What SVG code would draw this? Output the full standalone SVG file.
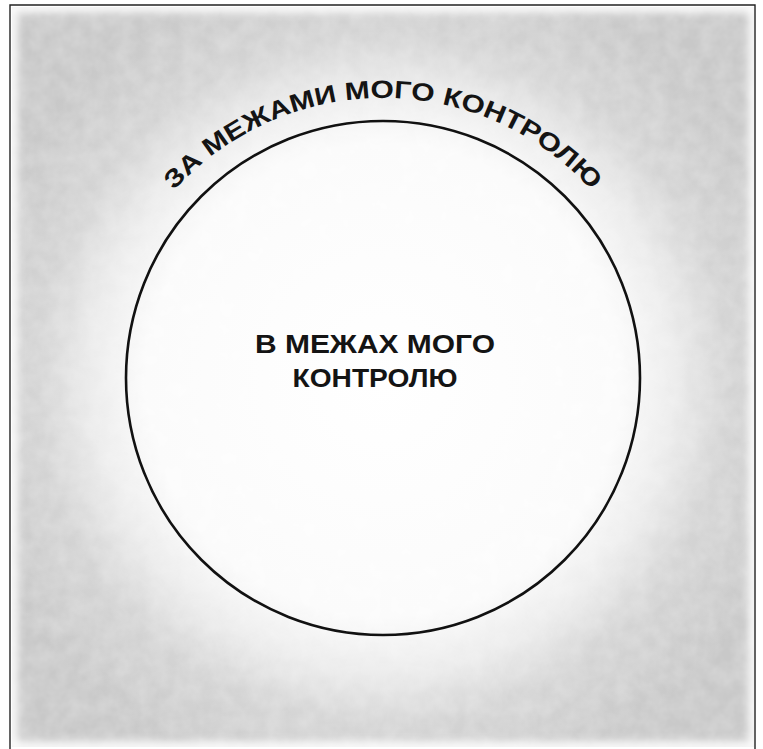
<svg xmlns="http://www.w3.org/2000/svg" xmlns:xlink="http://www.w3.org/1999/xlink" width="763" height="749" viewBox="0 0 763 749">
<style>
.lbl{font-family:"Liberation Sans",Arial,sans-serif;font-weight:bold;fill:#141414;font-size:25px}
.frame{stroke:#222;stroke-width:1.4;fill:none}
</style>
<defs>
<radialGradient id="glow" gradientUnits="userSpaceOnUse" cx="383" cy="380" r="430">
<stop offset="0" stop-color="#ffffff"/>
<stop offset="0.55" stop-color="#fbfbfb"/>
<stop offset="0.68" stop-color="#ebebeb"/>
<stop offset="0.8" stop-color="#d4d4d4"/>
<stop offset="1" stop-color="#c8c8c8"/>
</radialGradient>
<filter id="blur" x="-10%" y="-10%" width="120%" height="120%">
<feGaussianBlur stdDeviation="4"/>
</filter>
<filter id="grain" x="0" y="0" width="100%" height="100%">
<feTurbulence type="fractalNoise" baseFrequency="0.06" numOctaves="3" seed="4" result="n"/>
<feColorMatrix type="matrix" values="0 0 0 0 1  0 0 0 0 1  0 0 0 0 1  0 0 0 0.35 -0.08" in="n"/>
</filter>
<path id="arc" d="M 101 380 A 282 282 0 0 1 665 380"/>
</defs>
<rect width="763" height="749" fill="#ffffff"/>
<g id="background">
<rect x="12" y="7" width="742" height="740" fill="url(#glow)"/>
<rect x="12" y="7" width="742" height="740" filter="url(#grain)"/>
<rect x="12" y="7" width="742" height="740" fill="none" stroke="#ffffff" stroke-width="10" filter="url(#blur)"/>
</g>
<g id="frame">
<path class="frame" d="M10 749 V5 H755 V749"/>
</g>
<g id="inside">
<circle cx="383" cy="378" r="257" fill="none" stroke="#111" stroke-width="2.6"/>
<text class="lbl" x="375" y="353" text-anchor="middle" textLength="240" lengthAdjust="spacingAndGlyphs">В МЕЖАХ МОГО</text>
<text class="lbl" x="375" y="387" text-anchor="middle" textLength="165" lengthAdjust="spacingAndGlyphs">КОНТРОЛЮ</text>
</g>
<g id="outside">
<text class="lbl" font-size="26"><textPath xlink:href="#arc" href="#arc" startOffset="50%" text-anchor="middle" textLength="470" lengthAdjust="spacingAndGlyphs">ЗА МЕЖАМИ МОГО КОНТРОЛЮ</textPath></text>
</g>
<g id="connectors"/>
</svg>
